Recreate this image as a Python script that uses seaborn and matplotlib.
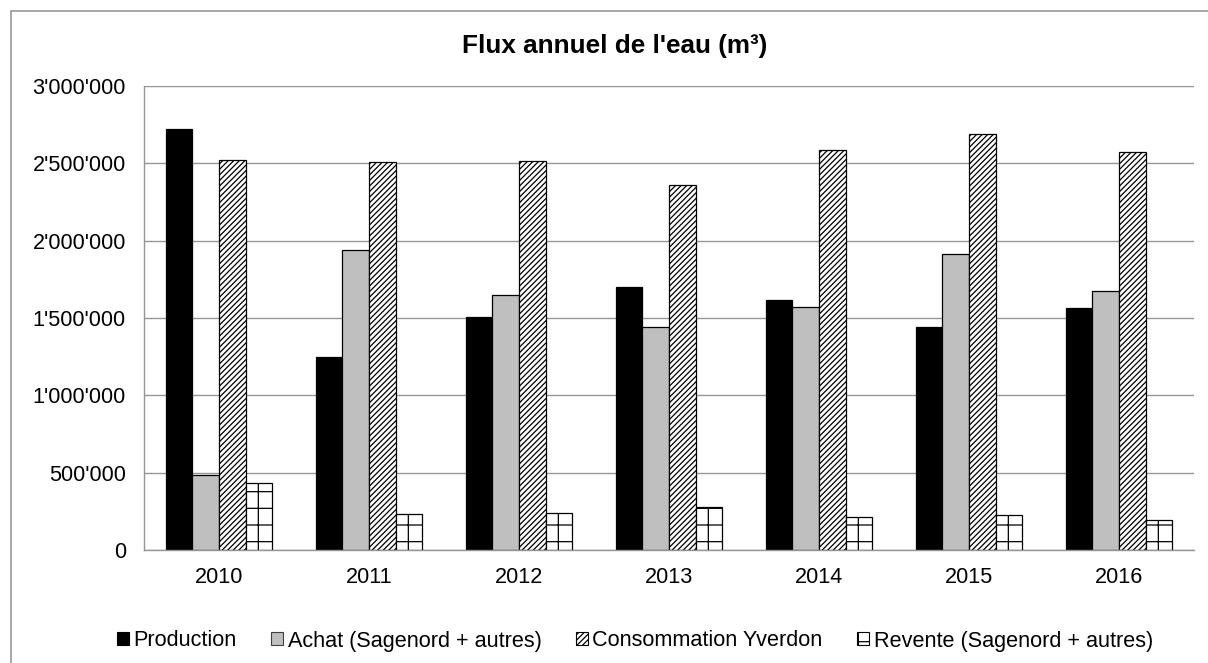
import matplotlib
matplotlib.use('Agg')
import matplotlib.pyplot as plt
from matplotlib.patches import Patch
from matplotlib.lines import Line2D
from matplotlib.ticker import FuncFormatter
import seaborn as sns
import pandas as pd

years = ['2010', '2011', '2012', '2013', '2014', '2015', '2016']
production = [2725000, 1250000, 1509000, 1703000, 1616000, 1442000, 1567000]
achat = [485000, 1940000, 1649000, 1440000, 1573000, 1912000, 1677000]
consommation = [2521000, 2507000, 2515000, 2360000, 2584000, 2690000, 2571000]
revente = [431000, 231000, 237000, 276000, 215000, 228000, 194000]

series_names = ['Production', 'Achat (Sagenord + autres)',
                'Consommation Yverdon', 'Revente (Sagenord + autres)']
colors = ['#000000', '#BFBFBF', '#FFFFFF', '#FFFFFF']
hatches = ['', '', '//////', '+']

sns.set_theme(style='white')
plt.rcParams['font.family'] = ['Liberation Sans', 'DejaVu Sans']
plt.rcParams['text.color'] = 'black'
plt.rcParams['hatch.linewidth'] = 0.9

rows = []
for name, vals in zip(series_names, [production, achat, consommation, revente]):
    for y, v in zip(years, vals):
        rows.append({'year': y, 'serie': name, 'value': v})
df = pd.DataFrame(rows)

fig = plt.figure(figsize=(12.08, 6.63), dpi=100)
ax = fig.add_axes([144 / 1208, 1 - 550 / 663, (1194 - 144) / 1208, (550 - 86) / 663])

sns.barplot(data=df, x='year', y='value', hue='serie', hue_order=series_names,
            palette=colors, width=0.713, gap=0, edgecolor='black', linewidth=0.9,
            ax=ax, legend=False)

for cont, h in zip(ax.containers, hatches):
    for p in cont:
        p.set_hatch(h)

ax.set_ylim(0, 3000000)
ax.set_xlim(-0.5, 6.5)
ax.set_yticks(range(0, 3000001, 500000))
ax.yaxis.set_major_formatter(FuncFormatter(lambda v, _: f"{int(v):,}".replace(',', "'")))
ax.set_xlabel('')
ax.set_ylabel('')
ax.grid(axis='y', color='#959595', linewidth=1.0)
ax.set_axisbelow(True)
for side in ['top', 'right']:
    ax.spines[side].set_visible(False)
for side in ['left', 'bottom']:
    ax.spines[side].set_color('#959595')
    ax.spines[side].set_linewidth(1.0)
ax.tick_params(axis='y', length=0, pad=13, labelsize=15.6, labelcolor='black')
ax.tick_params(axis='x', length=0, pad=12, labelsize=15.6, labelcolor='black')

fig.text(615 / 1208, 1 - 53 / 663, "Flux annuel de l'eau (m³)", ha='center', va='baseline',
         fontsize=18.8, fontweight='bold', color='black')

handles = [Patch(facecolor=c, edgecolor='black' if i != 1 else '#404040', hatch=h, linewidth=0.8)
           for i, (c, h) in enumerate(zip(colors, hatches))]
leg = fig.legend(handles, series_names, loc='center', bbox_to_anchor=(635 / 1208, 1 - 641 / 663),
                 ncol=4, frameon=False, fontsize=15.6, handlelength=0.55, handleheight=0.55,
                 handletextpad=0.2, columnspacing=1.6, borderaxespad=0)
for t in leg.get_texts():
    t.set_color('black')

# outer chart border (only top and left visible in the crop)
fig.add_artist(Line2D([11 / 1208, 1.0], [1 - 11 / 663, 1 - 11 / 663], color='#A0A0A0', linewidth=1.3))
fig.add_artist(Line2D([11 / 1208, 11 / 1208], [0, 1 - 11 / 663], color='#A0A0A0', linewidth=1.3))

fig.savefig('out.png', dpi=100, facecolor='white')
plt.close(fig)
